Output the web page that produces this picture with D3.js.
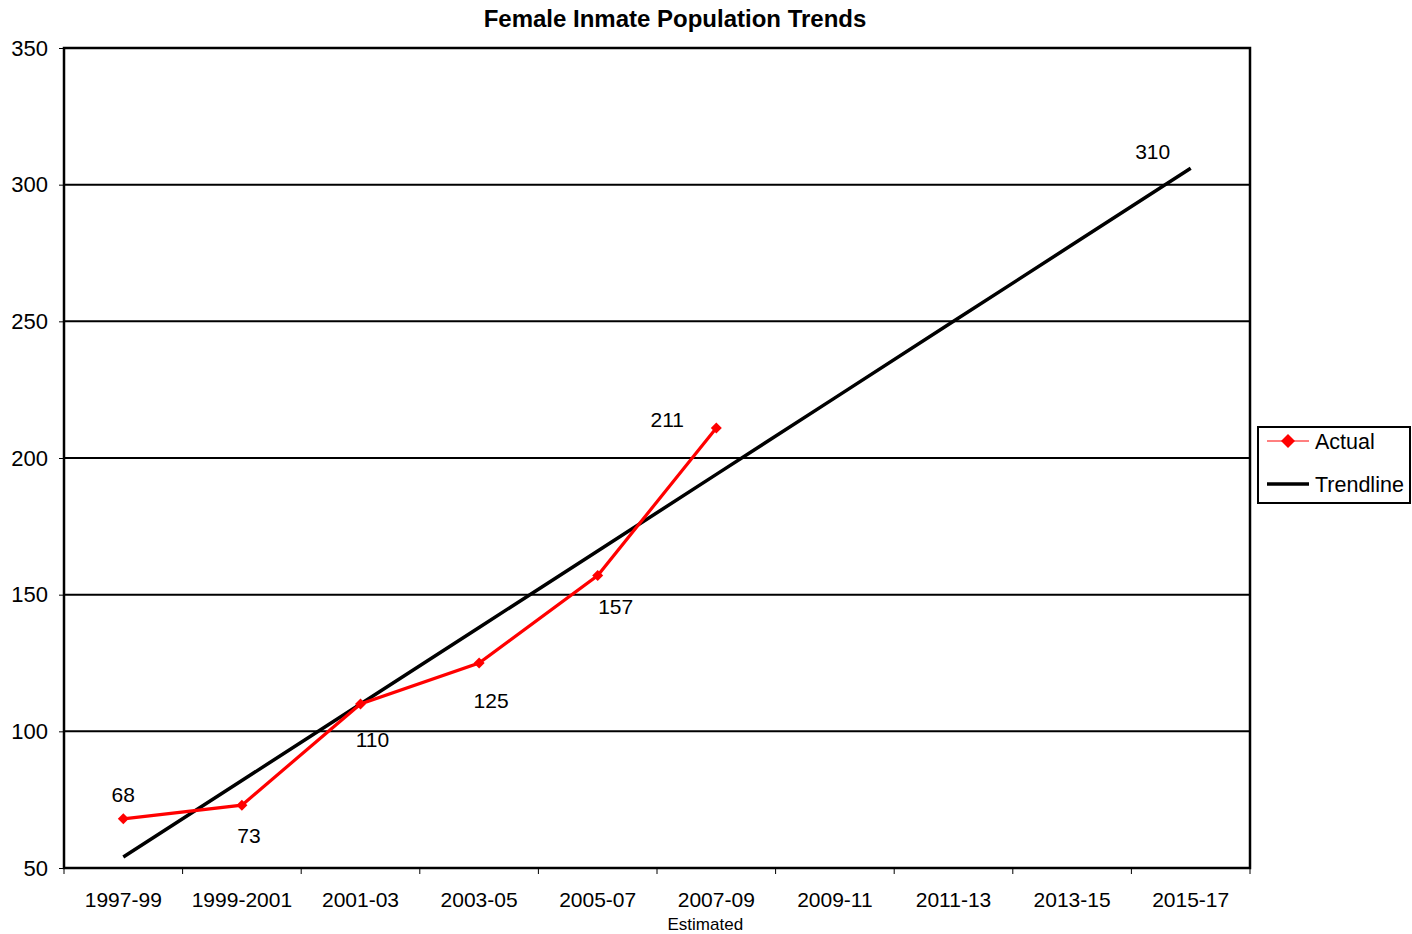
<!DOCTYPE html>
<html>
<head>
<meta charset="utf-8">
<script src="https://cdn.jsdelivr.net/npm/d3@7"></script>
<style>
  body { margin: 0; background: #fff; }
  text { font-family: "Liberation Sans", Arial, sans-serif; fill: #000; }
</style>
</head>
<body>
<div id="chart"></div>
<script>
// values
var categories = ["1997-99", "1999-2001", "2001-03", "2003-05", "2005-07",
                  "2007-09", "2009-11", "2011-13", "2013-15", "2015-17"];
var actual = [68, 73, 110, 125, 157, 211];
var trendline = [54, 82, 110, 138, 166, 194, 222, 250, 278, 306];
var trendLabel = "310";
var yTicks = [50, 100, 150, 200, 250, 300, 350];

var W = 1412, H = 934;
var margin = {top: 48, right: 162, bottom: 66, left: 64};
var width = W - margin.left - margin.right,
    height = H - margin.top - margin.bottom;

var svg = d3.select("#chart").append("svg")
    .attr("width", W)
    .attr("height", H);

svg.append("text")
    .attr("x", 675).attr("y", 27)
    .attr("text-anchor", "middle")
    .style("font-size", "24px").style("font-weight", "bold")
    .text("Female Inmate Population Trends");

var g = svg.append("g")
    .attr("transform", "translate(" + margin.left + "," + margin.top + ")");

var x = d3.scaleBand().domain(categories).range([0, width]);
var y = d3.scaleLinear().domain([50, 350]).range([height, 0]);
var cx = function(i) { return x(categories[i]) + x.bandwidth() / 2; };

// gridlines
g.selectAll(".grid").data(yTicks.slice(1, -1)).enter().append("line")
    .attr("x1", 0).attr("x2", width)
    .attr("y1", function(d) { return y(d); })
    .attr("y2", function(d) { return y(d); })
    .attr("stroke", "#000").attr("stroke-width", 2);

// y axis
var yAxis = g.append("g")
    .call(d3.axisLeft(y).tickValues(yTicks).tickSize(5).tickPadding(11));
yAxis.select(".domain").remove();
yAxis.selectAll("line").attr("stroke", "#000");
yAxis.selectAll("text").style("font-size", "22px")
    .style("font-family", "Liberation Sans, Arial, sans-serif");

// x axis (ticks at category boundaries)
var xAxis = g.append("g").attr("transform", "translate(0," + height + ")");
xAxis.selectAll("line").data(d3.range(categories.length + 1)).enter().append("line")
    .attr("x1", function(i) { return i * x.step(); })
    .attr("x2", function(i) { return i * x.step(); })
    .attr("y1", 0).attr("y2", 6)
    .attr("stroke", "#000");
xAxis.selectAll("text").data(categories).enter().append("text")
    .attr("x", function(d) { return x(d) + x.bandwidth() / 2; })
    .attr("y", 39)
    .attr("text-anchor", "middle")
    .style("font-size", "21px")
    .text(function(d) { return d; });

g.append("text")
    .attr("x", cx(5) - 11).attr("y", height + 62)
    .attr("text-anchor", "middle")
    .style("font-size", "17px")
    .text("Estimated");

// plot border
g.append("rect")
    .attr("width", width).attr("height", height)
    .attr("fill", "none").attr("stroke", "#000").attr("stroke-width", 2.5);

// trendline
var line = d3.line()
    .x(function(d, i) { return cx(i); })
    .y(function(d) { return y(d); });

g.append("path").datum(trendline)
    .attr("d", line)
    .attr("fill", "none").attr("stroke", "#000").attr("stroke-width", 3.5);

g.append("text")
    .attr("x", cx(9) - 38).attr("y", y(trendline[9]) - 9)
    .attr("text-anchor", "middle")
    .style("font-size", "21px")
    .text(trendLabel);

// actual series
g.append("path").datum(actual)
    .attr("d", line)
    .attr("fill", "none").attr("stroke", "#ff0000").attr("stroke-width", 3.2);

// square diamond marker
var diamond = function(r) {
  return "M0," + (-r) + "L" + r + ",0L0," + r + "L" + (-r) + ",0Z";
};
g.selectAll(".pt").data(actual).enter().append("path")
    .attr("transform", function(d, i) { return "translate(" + cx(i) + "," + y(d) + ")"; })
    .attr("d", diamond(5.5))
    .attr("fill", "#ff0000");

// data labels: above or below point as in the reference
var labelOffset = [[0, -17], [7, 38], [12, 43], [12, 45], [18, 38], [-49, -1]];
g.selectAll(".lbl").data(actual).enter().append("text")
    .attr("x", function(d, i) { return cx(i) + labelOffset[i][0]; })
    .attr("y", function(d, i) { return y(d) + labelOffset[i][1]; })
    .attr("text-anchor", "middle")
    .style("font-size", "21px")
    .text(function(d) { return d; });

// legend
var lg = svg.append("g").attr("transform", "translate(1258,427)");
lg.append("rect")
    .attr("width", 152).attr("height", 76)
    .attr("fill", "#fff").attr("stroke", "#000").attr("stroke-width", 2);
lg.append("line").attr("x1", 9).attr("x2", 51).attr("y1", 14).attr("y2", 14)
    .attr("stroke", "#ff0000").attr("stroke-width", 1);
lg.append("path").attr("transform", "translate(30,14)")
    .attr("d", diamond(7)).attr("fill", "#ff0000");
lg.append("text").attr("x", 57).attr("y", 22).style("font-size", "21.5px").text("Actual");
lg.append("line").attr("x1", 9).attr("x2", 51).attr("y1", 57).attr("y2", 57)
    .attr("stroke", "#000").attr("stroke-width", 3.5);
lg.append("text").attr("x", 57).attr("y", 65).style("font-size", "21.5px").text("Trendline");
</script>
</body>
</html>
